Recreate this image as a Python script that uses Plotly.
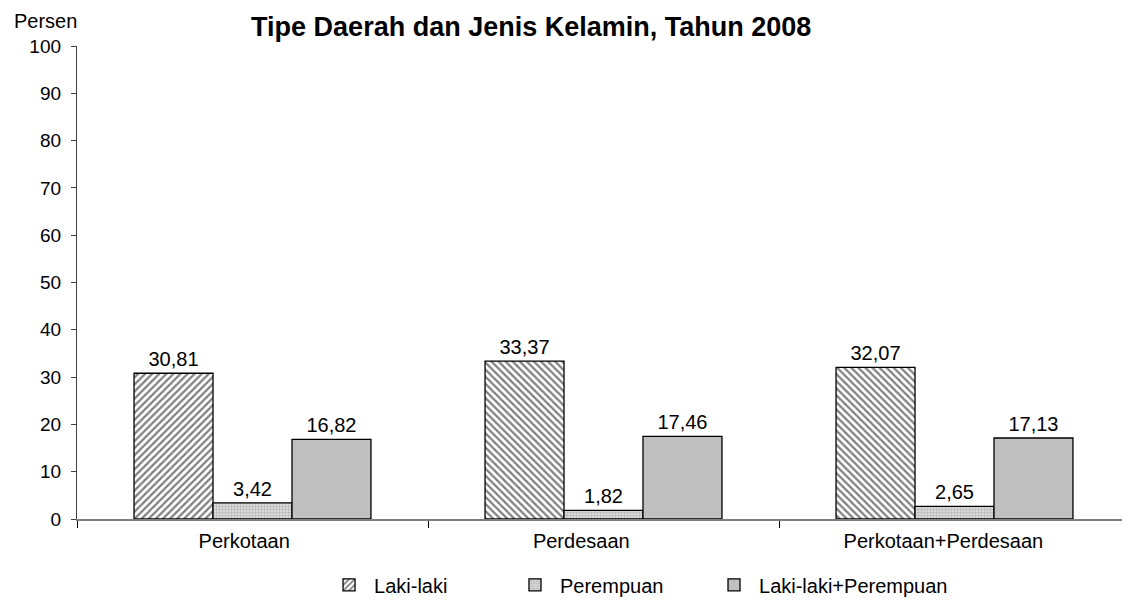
import plotly.graph_objects as go

categories = ["Perkotaan", "Perdesaan", "Perkotaan+Perdesaan"]
category_labels = ["Perkotaan\u00a0\u00a0\u00a0", "Perdesaan\u00a0\u00a0\u00a0\u00a0\u00a0\u00a0\u00a0\u00a0", "Perkotaan+Perdesaan\u00a0\u00a0\u00a0\u00a0"]
laki = [30.81, 33.37, 32.07]
perempuan = [3.42, 1.82, 2.65]
total = [16.82, 17.46, 17.13]

FONT = "Liberation Sans, Arial, sans-serif"
LBL = dict(size=20, color="black", family=FONT)

fig = go.Figure()
fig.add_trace(go.Bar(
    name="Laki-laki", x=categories, y=laki, legend="legend",
    marker=dict(color="white", line=dict(color="black", width=1.3),
                pattern=dict(shape=["/", "\\", "\\"], fgcolor="black", bgcolor="white",
                             size=5, solidity=0.45)),
    texttemplate="%{y:.2f}", textposition="outside",
    textfont=LBL, cliponaxis=False,
))
fig.add_trace(go.Bar(
    name="Perempuan", x=categories, y=perempuan, legend="legend2",
    marker=dict(color="#d8d8d8", line=dict(color="black", width=1.3),
                pattern=dict(shape=".", fgcolor="#8a8a8a", bgcolor="#e4e4e4",
                             size=3, solidity=0.5)),
    texttemplate="%{y:.2f}", textposition="outside",
    textfont=LBL, cliponaxis=False,
))
fig.add_trace(go.Bar(
    name="Laki-laki+Perempuan", x=categories, y=total, legend="legend3",
    marker=dict(color="#c0c0c0", line=dict(color="black", width=1.3)),
    texttemplate="%{y:.2f}", textposition="outside",
    textfont=LBL, cliponaxis=False,
))

leg = dict(orientation="h", xanchor="left", y=-0.098, yanchor="top",
           font=dict(size=20, family=FONT), itemwidth=40, bgcolor="rgba(0,0,0,0)")

fig.update_layout(
    width=1130, height=604,
    margin=dict(l=69, r=8, t=38, b=93),
    paper_bgcolor="white", plot_bgcolor="white",
    separators=",.",
    barmode="group", bargap=0.325, bargroupgap=0,
    font=dict(family=FONT, size=20, color="black"),
    title=dict(text="<b>Tipe Daerah dan Jenis Kelamin, Tahun 2008</b>",
               x=0.463, xanchor="center", y=0.985, yanchor="top",
               font=dict(size=27, family=FONT, color="black")),
    showlegend=True,
    legend=dict(leg, x=0.2346),
    legend2=dict(leg, x=0.4112),
    legend3=dict(leg, x=0.6002),
    annotations=[dict(text="Persen", xref="paper", yref="paper", x=-0.0617, y=1.053,
                      xanchor="left", yanchor="middle", showarrow=False,
                      font=dict(size=20, family=FONT))],
)
fig.update_xaxes(showline=True, linecolor="#808080", linewidth=1.5,
                 ticks="outside", tickson="boundaries", ticklen=7, tickcolor="black",
                 showgrid=False, tickfont=dict(size=20), ticklabelstandoff=3,
                 tickmode="array", tickvals=categories, ticktext=category_labels)
fig.update_yaxes(range=[0, 100], dtick=10, showline=True, linecolor="#404040", linewidth=1.3,
                 ticks="outside", ticklen=5, tickcolor="#404040", showgrid=False,
                 zeroline=False, tickfont=dict(size=19), ticklabelstandoff=6)

fig.write_html("out.html")
